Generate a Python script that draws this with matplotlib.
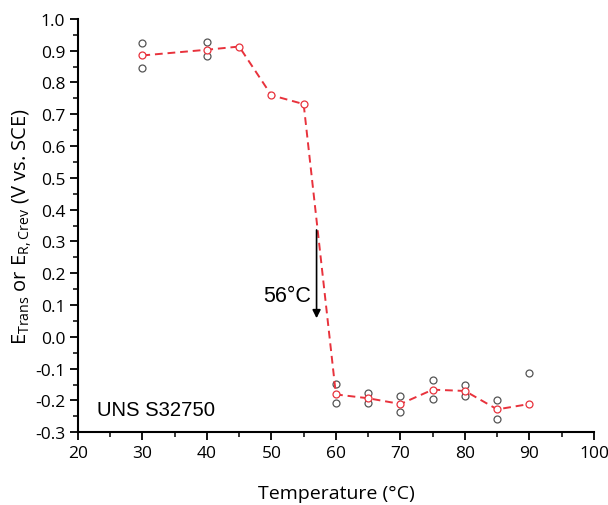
import matplotlib
matplotlib.use('Agg')
from matplotlib import pyplot as plt
from matplotlib.ticker import MultipleLocator

# mean values (red)
temp_mean = [30, 40, 45, 50, 55, 60, 65, 70, 75, 80, 85, 90]
e_mean = [0.885, 0.903, 0.913, 0.760, 0.732, -0.181, -0.193, -0.211, -0.166, -0.170, -0.228, -0.211]

# individual measurements (grey)
temp_ind = [30, 30, 40, 40, 60, 60, 65, 65, 70, 70, 75, 75, 80, 80, 85, 85, 90]
e_ind = [0.925, 0.844, 0.926, 0.884, -0.149, -0.207, -0.175, -0.208, -0.186, -0.237,
         -0.137, -0.195, -0.152, -0.185, -0.197, -0.259, -0.115]

plt.rcParams['font.family'] = ['Open Sans', 'DejaVu Sans']

fig = plt.figure(figsize=(6.08, 5.06), dpi=100)
ax = fig.add_axes([0.128, 0.1437, 0.849, 0.817])

ax.plot(temp_ind, e_ind, 'o', mfc='none', mec='#555555', ms=5, mew=0.9, ls='none')
ax.plot(temp_mean, e_mean, '--o', color='#e8323c', mfc='white', mec='#e8323c',
        ms=5, mew=0.9, lw=1.4, dashes=(4, 2.5))

ax.annotate('', xy=(57, 0.05), xytext=(57, 0.345),
            arrowprops=dict(arrowstyle='-|>', color='black', lw=1.2, mutation_scale=12))
ax.text(56.1, 0.13, '56°C', ha='right', va='center', fontsize=15.5, family='Liberation Sans')
ax.text(22.9, -0.227, 'UNS S32750', ha='left', va='center', fontsize=14.6, family='Liberation Sans')

ax.set_xlim(20, 100)
ax.set_ylim(-0.3, 1.0)
ax.xaxis.set_major_locator(MultipleLocator(10))
ax.xaxis.set_minor_locator(MultipleLocator(5))
ax.yaxis.set_major_locator(MultipleLocator(0.1))
ax.yaxis.set_minor_locator(MultipleLocator(0.05))
ax.yaxis.set_major_formatter(plt.FuncFormatter(lambda v, p: f'{v:.1f}'))

ax.set_xlabel('Temperature (°C)', fontsize=14, labelpad=17)
ax.set_ylabel(r'E$_{\mathregular{Trans}}$ or E$_{\mathregular{R, Crev}}$ (V vs. SCE)', fontsize=14.5, labelpad=1)

ax.spines['top'].set_visible(False)
ax.spines['right'].set_visible(False)
for s in ['left', 'bottom']:
    ax.spines[s].set_linewidth(1.5)
ax.tick_params(which='major', direction='out', length=6, width=1.3, labelsize=12.5, pad=3)
ax.tick_params(which='minor', direction='out', length=3.5, width=1.1)

fig.savefig('out.png', dpi=100)
